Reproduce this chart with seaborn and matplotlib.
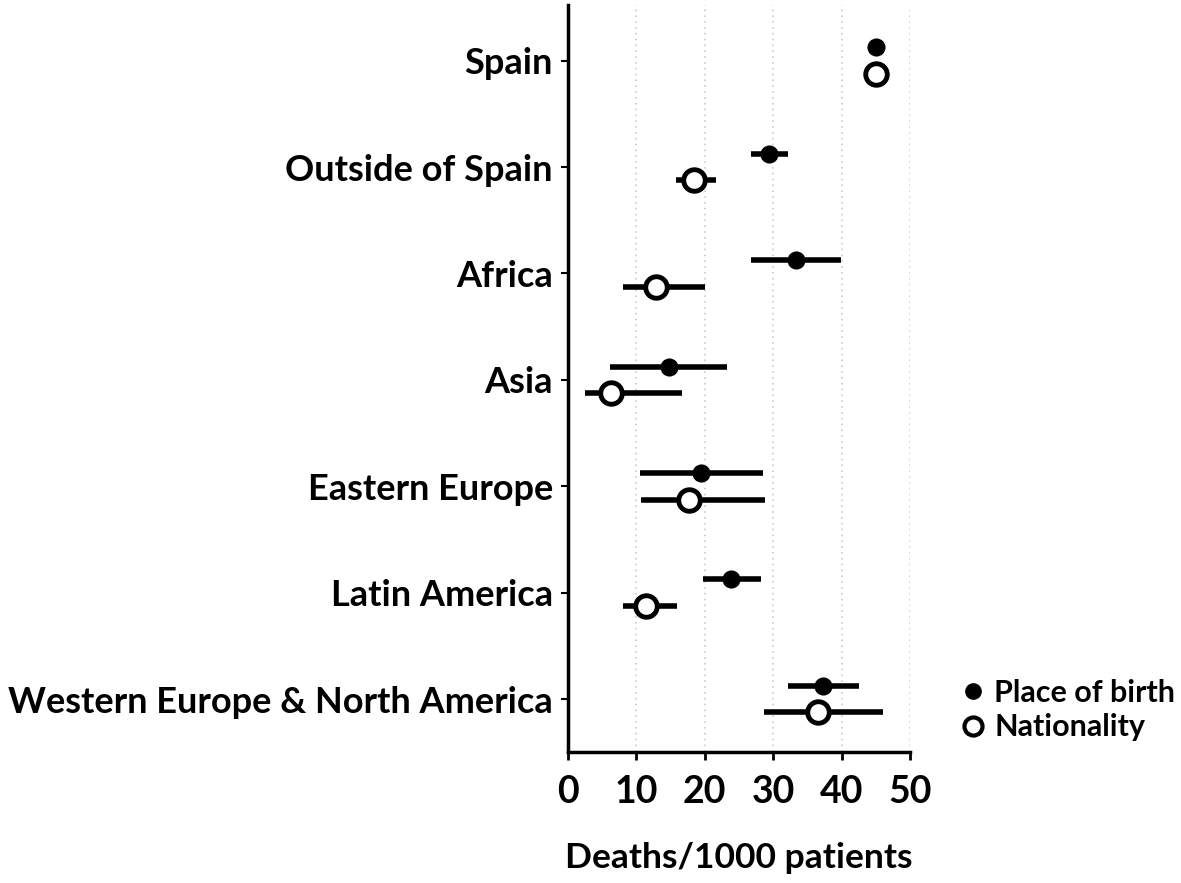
import numpy as np
import pandas as pd
import matplotlib.pyplot as plt
import seaborn as sns
from matplotlib.lines import Line2D

sns.set_theme(style="white")
plt.rcParams["font.family"] = ["Lato", "DejaVu Sans"]
plt.rcParams["text.color"] = "black"
plt.rcParams["xtick.color"] = "black"
plt.rcParams["ytick.color"] = "black"
plt.rcParams["axes.labelcolor"] = "black"

regioes = ["Spain", "Outside of Spain", "Africa", "Asia", "Eastern Europe",
           "Latin America", "Western Europe & North America"]

# Place of birth
nasc_valor = [45.1, 29.4, 33.3, 14.7, 19.5, 23.9, 37.3]
nasc_inf = [45.1, 26.8, 26.7, 6.2, 10.5, 19.8, 32.1]
nasc_sup = [45.1, 32.1, 39.9, 23.3, 28.5, 28.2, 42.6]

# Nationality
nac_valor = [45.1, 18.4, 12.8, 6.3, 17.7, 11.4, 36.5]
nac_inf = [45.1, 15.8, 8.1, 2.5, 10.7, 8.0, 28.7]
nac_sup = [45.1, 21.6, 20.0, 16.7, 28.8, 16.0, 46.0]

deslocamento = 0.125
posicoes = np.arange(len(regioes))

df_nasc = pd.DataFrame({"y": posicoes - deslocamento, "valor": nasc_valor,
                        "inf": nasc_inf, "sup": nasc_sup})
df_nac = pd.DataFrame({"y": posicoes + deslocamento, "valor": nac_valor,
                       "inf": nac_inf, "sup": nac_sup})

fig = plt.figure(figsize=(11.81, 8.83), dpi=100)
ax = fig.add_axes([0.481, 0.148, 0.2895, 0.846])

for linha in range(0, 60, 10):
    ax.axvline(linha, color="#cccccc", linestyle=(0, (1, 2.5)), linewidth=1.2, zorder=0)

ax.hlines(df_nasc["y"], df_nasc["inf"], df_nasc["sup"], color="black", linewidth=4, zorder=2)
ax.hlines(df_nac["y"], df_nac["inf"], df_nac["sup"], color="black", linewidth=4, zorder=2)

sns.scatterplot(data=df_nasc, x="valor", y="y", ax=ax, color="black", s=170,
                edgecolor="black", linewidth=0, zorder=3, legend=False)
sns.scatterplot(data=df_nac, x="valor", y="y", ax=ax, facecolor="white", s=240,
                edgecolor="black", linewidth=3.5, zorder=3, legend=False)

ax.set_xlim(0, 50)
ax.set_ylim(6.5, -0.52)
ax.set_xticks([0, 10, 20, 30, 40, 50])
ax.set_yticks(posicoes)
ax.set_yticklabels(regioes, fontsize=26, fontweight="bold")
ax.tick_params(axis="x", labelsize=27, length=6, width=2, direction="out", pad=10, bottom=True)
ax.tick_params(axis="y", length=5, width=1.5, direction="out", left=True, pad=6)
for rotulo in ax.get_xticklabels():
    rotulo.set_fontweight("bold")
ax.set_xlabel("Deaths/1000 patients", fontsize=25.5, fontweight="bold", labelpad=24)
ax.set_ylabel("")

sns.despine(ax=ax)
ax.spines["left"].set_linewidth(2.5)
ax.spines["bottom"].set_linewidth(2.5)
ax.spines["left"].set_color("black")
ax.spines["bottom"].set_color("black")

legenda = [
    Line2D([], [], marker="o", linestyle="", color="black", markersize=11, label="Place of birth"),
    Line2D([], [], marker="o", linestyle="", markerfacecolor="white", markeredgecolor="black",
           markeredgewidth=3, markersize=13, label="Nationality"),
]
fig.legend(handles=legenda, loc="upper left", bbox_to_anchor=(0.79, 0.262), frameon=False,
           prop={"size": 22, "weight": "bold"}, handletextpad=0.3, labelspacing=0.2,
           handlelength=0.8)

fig.savefig("out.png", dpi=100)
